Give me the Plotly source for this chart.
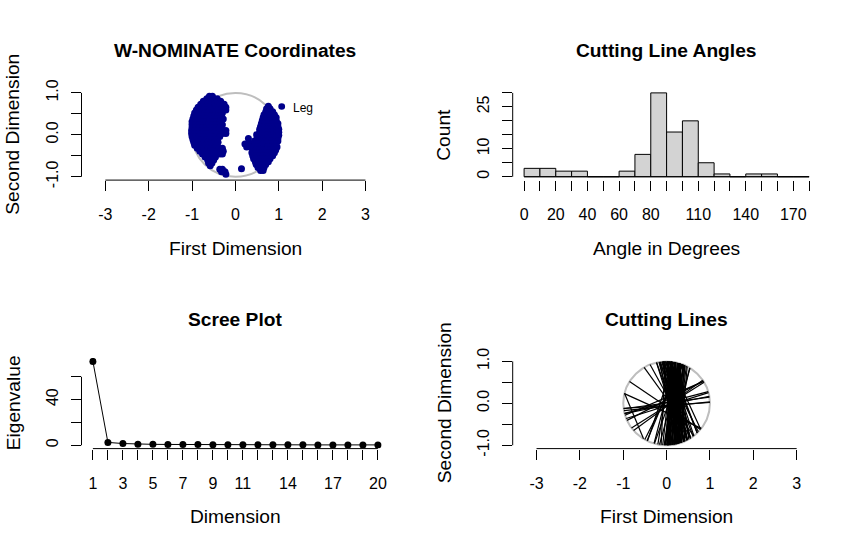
import math
import plotly.graph_objects as go

W, H = 863, 555
FONT = "Liberation Sans, Arial, sans-serif"

# ---------------- data ----------------
# W-NOMINATE legislator coordinates (rows of equal second-dimension value)
left_dim2 = [0.92, 0.86, 0.80, 0.73, 0.66, 0.59, 0.52, 0.45, 0.38, 0.31, 0.24, 0.17,
             0.10, 0.03, -0.04, -0.11, -0.18, -0.25, -0.32, -0.39, -0.46, -0.53,
             -0.60, -0.67, -0.74, -0.82, -0.88, -0.94]
left_dim1 = [
    [-0.60, -0.53],
    [-0.66, -0.58, -0.50, -0.42],
    [-0.74, -0.66, -0.58, -0.50, -0.42, -0.34],
    [-0.80, -0.72, -0.64, -0.56, -0.48, -0.40, -0.32, -0.26],
    [-0.86, -0.78, -0.70, -0.62, -0.46, -0.38, -0.30, -0.22],
    [-0.90, -0.82, -0.74, -0.66, -0.58, -0.40, -0.32, -0.22],
    [-0.94, -0.86, -0.78, -0.70, -0.62, -0.54, -0.46, -0.38, -0.30],
    [-0.96, -0.88, -0.80, -0.72, -0.64, -0.56, -0.48, -0.40, -0.32],
    [-0.98, -0.90, -0.82, -0.74, -0.66, -0.58, -0.50, -0.42, -0.34, -0.28],
    [-1.00, -0.92, -0.76, -0.68, -0.60, -0.52, -0.44, -0.36],
    [-1.00, -0.92, -0.84, -0.70, -0.62, -0.54, -0.46, -0.38, -0.30],
    [-1.00, -0.92, -0.84, -0.76, -0.68, -0.60, -0.52, -0.44, -0.36],
    [-1.01, -0.93, -0.85, -0.77, -0.69, -0.61, -0.53, -0.45, -0.37, -0.29, -0.22],
    [-1.01, -0.93, -0.85, -0.77, -0.69, -0.61, -0.53, -0.45, -0.30, -0.22],
    [-1.00, -0.92, -0.84, -0.76, -0.68, -0.60, -0.52, -0.44, -0.36],
    [-0.98, -0.90, -0.82, -0.74, -0.66, -0.58, -0.50, -0.42],
    [-0.96, -0.88, -0.72, -0.64, -0.56, -0.48, -0.40],
    [-0.94, -0.86, -0.78, -0.70, -0.62, -0.54, -0.46],
    [-0.88, -0.80, -0.72, -0.64, -0.56, -0.48, -0.38, -0.30],
    [-0.82, -0.74, -0.66, -0.58, -0.50, -0.42, -0.34, -0.28],
    [-0.76, -0.62, -0.54, -0.46, -0.36, -0.30],
    [-0.70, -0.62, -0.54, -0.46],
    [-0.64, -0.56, -0.50],
    [-0.62, -0.54],
    [-0.58],
    [-0.36, -0.30],
    [-0.32, -0.24],
    [-0.22],
]
right_dim2 = [0.68, 0.62, 0.55, 0.48, 0.41, 0.34, 0.27, 0.20, 0.13, 0.06, -0.01, -0.08,
              -0.15, -0.22, -0.29, -0.36, -0.43, -0.50, -0.57, -0.64, -0.71, -0.78, -0.85]
right_dim1 = [
    [0.76],
    [0.72, 0.80],
    [0.70, 0.78, 0.86],
    [0.66, 0.74, 0.82, 0.90],
    [0.64, 0.72, 0.80, 0.88, 0.94],
    [0.62, 0.70, 0.78, 0.86, 0.94],
    [0.60, 0.68, 0.76, 0.84, 0.92, 0.98],
    [0.58, 0.66, 0.74, 0.82, 0.90, 0.98],
    [0.56, 0.64, 0.72, 0.80, 0.88, 0.96, 1.00],
    [0.56, 0.64, 0.72, 0.80, 0.88, 0.96, 1.00],
    [0.56, 0.64, 0.72, 0.80, 0.88, 0.96, 1.00],
    [0.50, 0.58, 0.66, 0.74, 0.82, 0.90, 0.98],
    [0.44, 0.52, 0.60, 0.68, 0.76, 0.84, 0.92, 0.98],
    [0.22, 0.30, 0.38, 0.46, 0.54, 0.62, 0.70, 0.78, 0.86, 0.94],
    [0.26, 0.34, 0.42, 0.50, 0.66, 0.74, 0.82, 0.90, 0.96],
    [0.40, 0.48, 0.56, 0.64, 0.72, 0.80, 0.88, 0.93],
    [0.38, 0.46, 0.54, 0.62, 0.70, 0.78, 0.86, 0.90],
    [0.40, 0.48, 0.56, 0.64, 0.72, 0.80, 0.86],
    [0.42, 0.50, 0.58, 0.66, 0.74, 0.80],
    [0.46, 0.54, 0.62, 0.70, 0.76],
    [0.48, 0.56, 0.64, 0.70],
    [0.52, 0.60, 0.66],
    [0.58, 0.64],
]
extra_dim1 = [0.14, 0.30, 0.49]
extra_dim2 = [-0.81, -0.09, 0.00]

# Cutting line angles histogram
hist_breaks = [0, 10, 20, 30, 40, 50, 60, 70, 80, 90, 100, 110, 120, 130, 140, 150, 160, 170, 180]
hist_counts = [3, 3, 2, 2, 0, 0, 2, 8, 30, 16, 20, 5, 1, 0, 1, 1, 0, 0]

# Scree plot
scree_dim = [1, 2, 3, 4, 5, 6, 7, 8, 9, 10, 11, 12, 13, 14, 15, 16, 17, 18, 19, 20]
scree_eigen = [73.5, 2.5, 1.5, 0.9, 0.8, 0.7, 0.6, 0.6, 0.5, 0.5,
               0.5, 0.4, 0.4, 0.4, 0.4, 0.3, 0.3, 0.3, 0.3, 0.3]

# Cutting lines: angle (deg) and a point the line passes through
cut_angle = [4, 6, 8, 12, 15, 18, 24, 28, 33, 37, 64, 68,
             71, 72, 74, 75, 76, 77, 78, 79,
             80.3, 80.8, 81.2, 81.6, 82.0, 82.4, 82.9, 83.3, 83.7, 84.0,
             84.4, 84.8, 85.1, 85.5, 85.9, 86.2, 86.6, 86.9, 87.3, 87.6,
             88.0, 88.3, 88.6, 88.9, 89.2, 89.4, 89.6, 89.8, 81.9, 84.6,
             90.3, 90.9, 91.4, 92.0, 92.6, 93.1, 93.7, 94.3, 94.9, 95.5,
             96.1, 96.8, 97.4, 98.1, 98.8, 99.5,
             100.2, 100.7, 101.3, 101.8, 102.4, 102.9, 103.5, 104.0, 104.6, 105.1,
             105.7, 106.2, 106.8, 107.3, 107.9, 108.4, 108.9, 109.3, 109.6, 109.9,
             111, 112, 114, 116, 118, 125, 145, 155]
cut_mid1 = [0.0, 0.0, 0.0, 0.0, 0.0, 0.0, -0.95, -0.90, -0.80, -0.75, -0.50, -0.45,
            0.05, -0.15, 0.30, 0.10, -0.05, 0.20, 0.35, 0.15,
            0.12, 0.25, -0.05, 0.18, 0.30, 0.08, 0.22, 0.35, 0.02, 0.15,
            0.28, 0.10, 0.40, 0.05, 0.20, 0.32, 0.13, 0.26, -0.08, 0.17,
            0.38, 0.07, 0.24, 0.30, 0.11, 0.19, 0.03, 0.27, 0.14, 0.33,
            0.20, 0.05, 0.31, 0.14, 0.26, 0.09, 0.36, 0.18, 0.02, 0.23,
            0.29, 0.12, 0.40, 0.16, 0.07, 0.33,
            0.10, 0.22, 0.04, 0.16, 0.28, 0.12, 0.35, 0.19, 0.08, 0.25,
            0.14, 0.31, 0.06, 0.21, 0.38, 0.17, 0.27, 0.11, 0.33, 0.45,
            0.55, -0.745, 0.6, 0.45, -0.05, 0.5, 0.6, 0.7]
cut_mid2 = [-0.05, -0.07, 0.01, -0.04, 0.02, -0.06, -0.28, -0.40, -0.58, -0.64, -0.86, -0.89,
            0, 0, 0, 0, 0, 0, 0, 0,
            0, 0, 0, 0, 0, 0, 0, 0, 0, 0,
            0, 0, 0, 0, 0, 0, 0, 0, 0, 0,
            0, 0, 0, 0, 0, 0, 0, 0, 0, 0,
            0, 0, 0, 0, 0, 0, 0, 0, 0, 0,
            0, 0, 0, 0, 0, 0,
            0, 0, 0, 0, 0, 0, 0, 0, 0, 0,
            0, 0, 0, 0, 0, 0, 0, 0, 0, 0,
            -0.3, -0.32, -0.2, -0.1, 0.3, -0.6, -0.5, -0.55]

# ---------------- geometry ----------------
LX = (81.5, 389.3)
RX = (512.7, 820.5)
TY = (82.2, 175.8)
BY = (359.7, 453.3)


def dom_x(p):
    return [p[0] / W, p[1] / W]


def dom_y(p):
    return [1 - p[1] / H, 1 - p[0] / H]


fig = go.Figure()

# Panel 1: coordinates
lx, ly = [], []
for yv, xs in zip(left_dim2, left_dim1):
    for xv in xs:
        lx.append(xv)
        ly.append(yv)
for yv, xs in zip(right_dim2, right_dim1):
    for xv in xs:
        lx.append(xv)
        ly.append(yv)
lx += extra_dim1
ly += extra_dim2
fig.add_trace(go.Scatter(x=lx, y=ly, mode="markers", xaxis="x", yaxis="y",
                         marker=dict(color="#00008B", size=7, line=dict(width=0)),
                         showlegend=False, hoverinfo="skip"))

# Panel 2: histogram
centers = [(hist_breaks[i] + hist_breaks[i + 1]) / 2 for i in range(len(hist_counts))]
widths = [hist_breaks[i + 1] - hist_breaks[i] for i in range(len(hist_counts))]
fig.add_trace(go.Bar(x=centers, y=hist_counts, width=widths, xaxis="x2", yaxis="y2",
                     marker=dict(color="#D3D3D3", line=dict(color="black", width=1)),
                     showlegend=False, hoverinfo="skip"))

# Panel 3: scree
fig.add_trace(go.Scatter(x=scree_dim, y=scree_eigen, mode="lines+markers", xaxis="x3", yaxis="y3",
                         line=dict(color="black", width=1),
                         marker=dict(color="black", size=7),
                         showlegend=False, hoverinfo="skip"))

# Panel 4: cutting lines (chords of unit circle)
cx, cy = [], []
for a, m1, m2 in zip(cut_angle, cut_mid1, cut_mid2):
    u1, u2 = math.cos(math.radians(a)), math.sin(math.radians(a))
    b = m1 * u1 + m2 * u2
    c = m1 * m1 + m2 * m2 - 1
    disc = math.sqrt(max(b * b - c, 0.0))
    t0, t1 = -b - disc, -b + disc
    cx += [m1 + t0 * u1, m1 + t1 * u1, None]
    cy += [m2 + t0 * u2, m2 + t1 * u2, None]
fig.add_trace(go.Scatter(x=cx, y=cy, mode="lines", xaxis="x4", yaxis="y4",
                         line=dict(color="black", width=1.2),
                         showlegend=False, hoverinfo="skip"))

tickfont = dict(family=FONT, size=16, color="black")


def axis(domain, rng, vals, text, anchor, is_y):
    d = dict(domain=domain, range=rng, tickvals=vals, ticktext=text, anchor=anchor,
             showgrid=False, zeroline=False, showline=False, ticks="outside",
             ticklen=10, tickwidth=1, tickcolor="black", tickfont=tickfont,
             fixedrange=True)
    if is_y:
        d["tickangle"] = -90
        d["ticklabelstandoff"] = 6
    else:
        d["tickangle"] = 0
        d["ticklabelstandoff"] = 10
    return d


dim_vals = [-1, -0.5, 0, 0.5, 1]
dim_text = ["-1.0", "", "0.0", "", "1.0"]
x_vals = [-3, -2, -1, 0, 1, 2, 3]
x_text = ["-3", "-2", "-1", "0", "1", "2", "3"]

hist_ticktext = ["0", "", "20", "", "40", "", "60", "", "80", "", "", "110", "", "",
                 "140", "", "", "170", ""]
scree_ticktext = ["1", "", "3", "", "5", "", "7", "", "9", "", "11", "", "", "14",
                  "", "", "17", "", "", "20"]
ymax = max(scree_eigen)

fig.update_layout(
    xaxis=axis(dom_x(LX), [-3.55, 3.55], x_vals, x_text, "y", False),
    yaxis=axis(dom_y(TY), [-1.08, 1.08], dim_vals, dim_text, "x", True),
    xaxis2=axis(dom_x(RX), [-7.2, 187.2], hist_breaks, hist_ticktext, "y2", False),
    yaxis2=axis(dom_y(TY), [-1.2, 31.2], [0, 5, 10, 15, 20, 25, 30],
                ["0", "", "10", "", "", "25", ""], "x2", True),
    xaxis3=axis(dom_x(LX), [0.24, 20.76], scree_dim, scree_ticktext, "y3", False),
    yaxis3=axis(dom_y(BY), [-0.04 * ymax, 1.04 * ymax], [0, 20, 40, 60],
                ["0", "", "40", ""], "x3", True),
    xaxis4=axis(dom_x(RX), [-3.55, 3.55], x_vals, x_text, "y4", False),
    yaxis4=axis(dom_y(BY), [-1.08, 1.08], dim_vals, dim_text, "x4", True),
)

shapes = []
line_k = dict(color="black", width=1)
# panel 1 & 4 axes and circle
for xa, ya in (("x", "y"), ("x4", "y4")):
    shapes.append(dict(type="line", xref=xa + " domain", x0=0, x1=0, yref=ya, y0=-1, y1=1, line=line_k))
    shapes.append(dict(type="line", xref=xa, x0=-3, x1=3, yref=ya + " domain", y0=0, y1=0, line=line_k))
    shapes.append(dict(type="circle", xref=xa, yref=ya, x0=-1, x1=1, y0=-1, y1=1,
                       line=dict(color="#BEBEBE", width=2), layer="below"))
# panel 2
shapes.append(dict(type="line", xref="x2 domain", x0=0, x1=0, yref="y2", y0=0, y1=30, line=line_k))
shapes.append(dict(type="line", xref="x2", x0=hist_breaks[0], x1=hist_breaks[-1], yref="y2",
                   y0=0, y1=0, line=line_k))
# panel 3
shapes.append(dict(type="line", xref="x3 domain", x0=0, x1=0, yref="y3", y0=0, y1=60, line=line_k))
shapes.append(dict(type="line", xref="x3", x0=1, x1=20, yref="y3 domain", y0=0, y1=0, line=line_k))
# legend marker
lgx, lgy, r = 281.7, 99.7, 3.4
shapes.append(dict(type="circle", xref="paper", yref="paper",
                   x0=(lgx - r) / W, x1=(lgx + r) / W, y0=1 - (lgy + r) / H, y1=1 - (lgy - r) / H,
                   fillcolor="#00008B", line=dict(color="#00008B", width=0)))

annotations = []


def txt(text, x, y, size, bold=False, angle=0, xanchor="center"):
    annotations.append(dict(text=("<b>%s</b>" % text) if bold else text,
                            x=x / W, y=1 - y / H, xref="paper", yref="paper",
                            xanchor=xanchor, yanchor="middle", showarrow=False,
                            textangle=angle, font=dict(family=FONT, size=size, color="black")))


lc = (LX[0] + LX[1]) / 2
rc = (RX[0] + RX[1]) / 2
txt("W-NOMINATE Coordinates", lc, 42, 19.2, True)
txt("Cutting Line Angles", rc, 42, 19.2, True)
txt("Scree Plot", lc, 320, 19.2, True)
txt("Cutting Lines", rc, 320, 19.2, True)
txt("First Dimension", lc, 246.5, 19.2)
txt("Angle in Degrees", rc, 246.5, 19.2)
txt("Dimension", lc, 523.5, 19.2)
txt("First Dimension", rc, 523.5, 19.2)
txt("Second Dimension", 13, 129, 19.2, angle=-90)
txt("Count", 444, 129, 19.2, angle=-90)
txt("Eigenvalue", 13, 406.5, 19.2, angle=-90)
txt("Second Dimension", 444, 406.5, 19.2, angle=-90)
txt("Leg", 290.5, 101, 12, xanchor="left")

fig.update_layout(shapes=shapes, annotations=annotations,
                  width=W, height=H, margin=dict(l=0, r=0, t=0, b=0),
                  paper_bgcolor="white", plot_bgcolor="white", showlegend=False,
                  font=dict(family=FONT, color="black"))

fig.write_html("out.html", post_script="document.body.style.margin='0px';",
               config={"displayModeBar": False})
